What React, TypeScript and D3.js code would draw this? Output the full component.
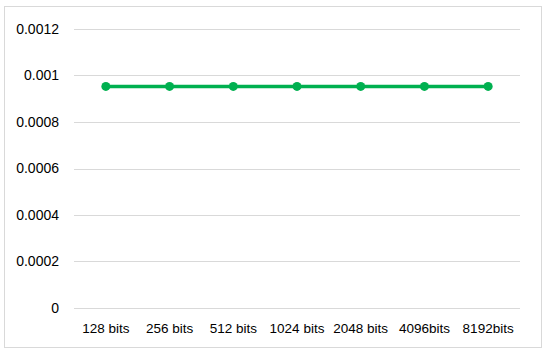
import React from "react";
import * as d3 from "d3";

const categories = ["128 bits", "256 bits", "512 bits", "1024 bits", "2048 bits", "4096bits", "8192bits"];
const values = [0.000953, 0.000953, 0.000953, 0.000953, 0.000953, 0.000953, 0.000953];
const yTicks = [0, 0.0002, 0.0004, 0.0006, 0.0008, 0.001, 0.0012];
const yTickLabels = ["0", "0.0002", "0.0004", "0.0006", "0.0008", "0.001", "0.0012"];

export default function App() {
  const W = 550, H = 357;
  const x = d3.scaleBand<string>().domain(categories).range([74, 520]);
  const y = d3.scaleLinear().domain([0, 0.0012]).range([308, 29]);
  const line = d3.line<number>()
    .x((_, i) => (x(categories[i]) as number) + x.bandwidth() / 2)
    .y((d) => y(d));
  const font = "'Liberation Sans', Arial, sans-serif";
  return (
    <svg width={W} height={H} style={{ position: "absolute", left: 0, top: 0 }}>
      <rect x={0} y={0} width={W} height={H} fill="#fff" />
      <rect x={4.5} y={6.5} width={537} height={341} fill="#fff" stroke="#d9d9d9" strokeWidth={1} />
      {yTicks.map((t, i) => (
        <g key={i}>
          <line x1={74} x2={520} y1={Math.round(y(t)) + 0.5} y2={Math.round(y(t)) + 0.5} stroke="#d9d9d9" strokeWidth={1} />
          <text x={59} y={y(t)} dy="0.35em" textAnchor="end" fontFamily={font} fontSize={14} fill="#000">
            {yTickLabels[i]}
          </text>
        </g>
      ))}
      {categories.map((c) => (
        <text key={c} x={(x(c) as number) + x.bandwidth() / 2} y={333} textAnchor="middle" fontFamily={font} fontSize={13.5} fill="#000">
          {c}
        </text>
      ))}
      <path d={line(values) || ""} fill="none" stroke="#00B050" strokeWidth={3.5} />
      {values.map((v, i) => (
        <circle key={i} cx={(x(categories[i]) as number) + x.bandwidth() / 2} cy={y(v)} r={4.5} fill="#00B050" />
      ))}
    </svg>
  );
}
